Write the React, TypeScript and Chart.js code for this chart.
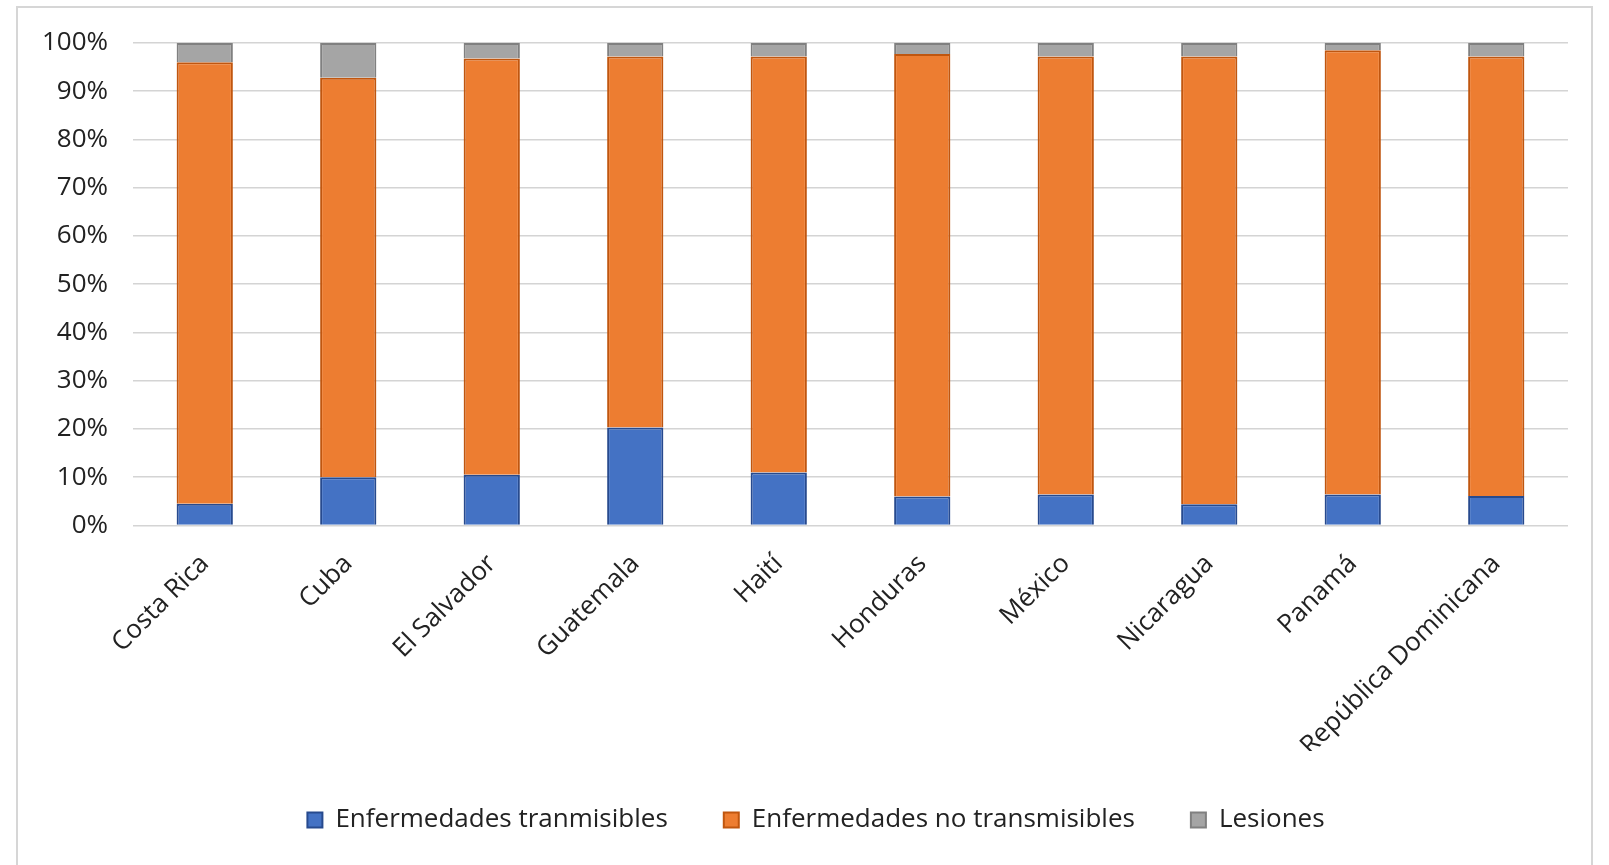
import React, { useEffect, useRef } from "react";
import { Chart, registerables } from "chart.js";

Chart.register(...registerables);

const categories = [
  "Costa Rica",
  "Cuba",
  "El Salvador",
  "Guatemala",
  "Haití",
  "Honduras",
  "México",
  "Nicaragua",
  "Panamá",
  "República Dominicana",
];

const transmisibles = [4.5, 10.0, 10.5, 20.3, 11.0, 6.0, 6.4, 4.4, 6.4, 6.1];
const noTransmisibles = [91.5, 82.8, 86.3, 76.9, 86.2, 91.7, 90.8, 92.8, 92.1, 91.1];
const lesiones = [4.0, 7.2, 3.2, 2.8, 2.8, 2.3, 2.8, 2.8, 1.5, 2.8];

const seriesNames = [
  "Enfermedades tranmisibles",
  "Enfermedades no transmisibles",
  "Lesiones",
];

const yTickValues = [0, 10, 20, 30, 40, 50, 60, 70, 80, 90, 100];

const FONT = "'Open Sans', 'Noto Sans', sans-serif";

const legendShift = {
  id: "legendShift",
  afterLayout(chart: any) {
    const lg = chart.legend;
    if (lg) {
      lg.left = 64;
      lg.right = 1568;
    }
  },
};

export default function App() {
  const canvasRef = useRef<HTMLCanvasElement | null>(null);

  useEffect(() => {
    const canvas = canvasRef.current;
    if (!canvas) return;
    const chart = new Chart(canvas, {
      type: "bar",
      data: {
        labels: categories,
        datasets: [
          {
            label: seriesNames[0],
            data: transmisibles,
            backgroundColor: "#4472C4",
            borderColor: "#274A8E",
            borderWidth: 2,
          },
          {
            label: seriesNames[1],
            data: noTransmisibles,
            backgroundColor: "#ED7D31",
            borderColor: "#C0560F",
            borderWidth: 2,
          },
          {
            label: seriesNames[2],
            data: lesiones,
            backgroundColor: "#A5A5A5",
            borderColor: "#808080",
            borderWidth: 2,
          },
        ],
      },
      plugins: [legendShift],
      options: {
        responsive: false,
        animation: false,
        layout: { padding: { left: 0, right: 41, top: 43, bottom: 22 } },
        datasets: {
          bar: {
            categoryPercentage: 1,
            barPercentage: 0.392,
          },
        },
        plugins: {
          title: { display: false },
          tooltip: { enabled: false },
          legend: {
            position: "bottom",
            labels: {
              boxWidth: 15,
              boxHeight: 15,
              padding: 56,
              color: "#222",
              font: { family: FONT, size: 26 },
            },
          },
        },
        scales: {
          x: {
            stacked: true,
            grid: { display: false, drawTicks: false },
            border: { display: false },
            afterFit: (scale: any) => {
              scale.height = 225.5;
            },
            ticks: {
              minRotation: 45,
              maxRotation: 45,
              padding: 23,
              autoSkip: false,
              color: "#222",
              font: { family: FONT, size: 26 },
            },
          },
          y: {
            stacked: true,
            min: 0,
            max: 100,
            afterFit: (scale: any) => {
              scale.width = 133;
            },
            afterBuildTicks: (scale: any) => {
              scale.ticks = yTickValues.map((v) => ({ value: v }));
            },
            grid: {
              color: "#D4D4D4",
              lineWidth: 1.6,
              drawTicks: false,
            },
            border: { display: false },
            ticks: {
              padding: 25,
              color: "#222",
              font: { family: FONT, size: 26 },
              callback: (v: any) => `${v}%`,
            },
          },
        },
      },
    });
    return () => chart.destroy();
  }, []);

  return (
    <div
      style={{
        position: "fixed",
        left: 0,
        top: 0,
        width: 1609,
        height: 865,
        overflow: "hidden",
        background: "#fff",
      }}
    >
      <div
        style={{
          position: "absolute",
          left: 16,
          top: 6,
          width: 1577,
          height: 900,
          border: "2px solid #D6D6D6",
          boxSizing: "border-box",
        }}
      />
      <canvas
        ref={canvasRef}
        width={1609}
        height={865}
        style={{ position: "absolute", left: 0, top: 0, width: 1609, height: 865 }}
      />
    </div>
  );
}
